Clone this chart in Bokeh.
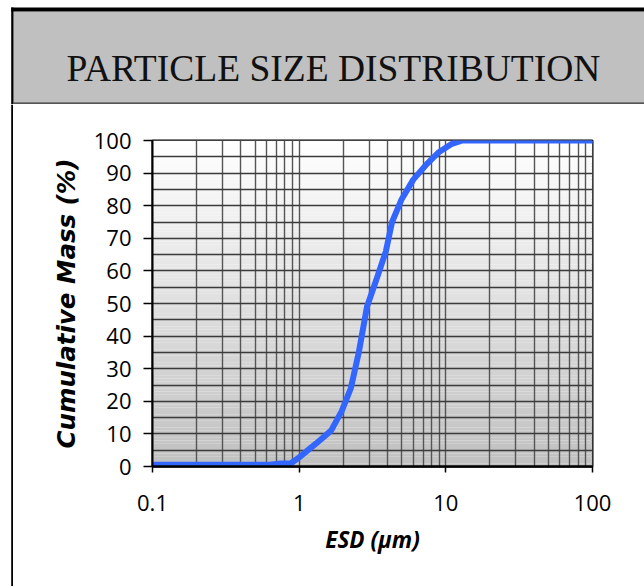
import numpy as np
from bokeh.plotting import figure
from bokeh.layouts import column, row
from bokeh.models import Range1d, FixedTicker, NumeralTickFormatter
from bokeh.core.properties import value
from bokeh.embed import file_html
from bokeh.resources import INLINE

# ---------------- data ----------------
TITLE = "PARTICLE SIZE DISTRIBUTION"
X_LABEL = "ESD (µm)"
Y_LABEL = "Cumulative Mass (%)"

esd_um = [0.1, 0.6, 0.75, 0.88, 1.0, 1.3, 1.65, 1.95, 2.25, 2.55, 2.9,
          3.4, 3.9, 4.3, 5.0, 6.0, 7.5, 9.0, 11.0, 13.0, 100.0]
cum_mass = [0.5, 0.5, 0.9, 1.0, 2.8, 7.0, 11.0, 17.0, 24.0, 35.0, 49.0,
            58.0, 66.0, 75.0, 82.0, 88.0, 93.0, 96.5, 99.0, 100.0, 100.0]

X_TICKS = [0.1, 1, 10, 100]
X_MINOR = [m * d for d in (0.1, 1, 10) for m in range(2, 10)]
Y_TICKS = list(range(0, 101, 10))
Y_MINOR = list(range(5, 100, 10))

W_TOTAL = 644
H_TOP = 104
H_BOTTOM = 482
STRIP_W = 13


def blank_fig(w, h, yflip=False):
    f = figure(width=w, height=h, x_range=Range1d(0, w),
               y_range=Range1d(h, 0) if yflip else Range1d(0, h),
               output_backend="svg", toolbar_location=None, min_border=0,
               x_axis_location=None, y_axis_location=None)
    f.outline_line_color = None
    f.grid.visible = False
    f.background_fill_color = "white"
    f.border_fill_color = "white"
    return f


# ---------------- title bar ----------------
top = blank_fig(W_TOTAL, H_TOP, yflip=True)
top.quad(left=[13], right=[W_TOTAL], top=[11], bottom=[101.7],
         fill_color="#C0C0C0", line_color=None)
top.quad(left=[10.7], right=[W_TOTAL], top=[7], bottom=[11],
         fill_color="black", line_color=None)
top.quad(left=[13], right=[W_TOTAL], top=[101.7], bottom=[104],
         fill_color="#555555", line_color=None)
top.quad(left=[10.7], right=[13], top=[7], bottom=[H_TOP],
         fill_color="black", line_color=None)
top.text(x=[333], y=[68], text=[TITLE], text_font=value("Liberation Serif"),
         text_font_size="37.5px", text_align="center",
         text_baseline="alphabetic", text_color="#111111")

# ---------------- left border strip ----------------
strip = blank_fig(STRIP_W, H_BOTTOM)
strip.quad(left=[10.7], right=[STRIP_W], bottom=[0], top=[H_BOTTOM],
           fill_color="black", line_color=None)

# ---------------- chart ----------------
x0, x1 = X_TICKS[0], X_TICKS[-1]
p = figure(width=W_TOTAL - STRIP_W, height=H_BOTTOM, x_axis_type="log",
           x_range=Range1d(x0, x1), y_range=Range1d(0, 100),
           output_backend="svg", toolbar_location=None,
           min_border_left=152 - STRIP_W, min_border_right=52,
           min_border_top=36, min_border_bottom=120)
p.background_fill_color = "white"
p.border_fill_color = "white"
p.outline_line_color = "black"
p.outline_line_width = 2

# vertical gradient background (white top -> silver bottom)
edges = np.linspace(0, 100, 101)
cols = []
for i in range(100):
    t = (edges[i] + edges[i + 1]) / 200.0
    c = int(round(192 + 63 * t))
    cols.append("#%02x%02x%02x" % (c, c, c))
p.quad(left=[x0] * 100, right=[x1] * 100, bottom=edges[:-1], top=edges[1:],
       fill_color=cols, line_color=None, level="image")

xt = FixedTicker(ticks=X_TICKS, minor_ticks=X_MINOR)
yt = FixedTicker(ticks=Y_TICKS, minor_ticks=Y_MINOR)
p.xaxis.ticker = xt
p.yaxis.ticker = yt
p.xgrid.ticker = xt
p.ygrid.ticker = yt
p.xgrid.grid_line_color = "#555555"
p.xgrid.minor_grid_line_color = "#555555"
p.ygrid.grid_line_color = "#3a3a3a"
p.ygrid.minor_grid_line_color = "#3a3a3a"
for g in (p.xgrid, p.ygrid):
    g.grid_line_width = 1.4
    g.minor_grid_line_width = 1.4

p.xaxis.formatter = NumeralTickFormatter(format="0.[0]")

for ax in (p.xaxis, p.yaxis):
    ax.axis_line_color = "black"
    ax.major_tick_line_color = "black"
    ax.major_tick_line_width = 1.5
    ax.major_tick_in = 0
    ax.minor_tick_in = 0
    ax.minor_tick_out = 0
    ax.major_label_text_font = "Open Sans"
    ax.major_label_text_font_size = "22px"
    ax.major_label_text_color = "black"
    ax.axis_label_text_font_style = "bold italic"
    ax.axis_label_text_color = "black"

p.xaxis.axis_label_text_font = "Open Sans"
p.xaxis.axis_label_text_font_size = "22.5px"
p.yaxis.axis_label_text_font = "DejaVu Sans"
p.yaxis.axis_label_text_font_size = "24.5px"

p.xaxis.axis_line_width = 2.5
p.yaxis.axis_line_width = 2
p.xaxis.major_tick_out = 6
p.xaxis.major_label_standoff = 22
p.xaxis.axis_label = X_LABEL
p.xaxis.axis_label_standoff = 10
p.yaxis.major_tick_out = 9
p.yaxis.major_label_standoff = 12
p.yaxis.axis_label = Y_LABEL
p.yaxis.axis_label_standoff = 10

p.line(esd_um, cum_mass, line_color="#3366FF", line_width=6,
       line_join="round", line_cap="round")

layout = column(row(top, spacing=0),
                row(column(strip, spacing=0), column(p, spacing=0), spacing=0),
                spacing=0)

open("out.html", "w").write(file_html(layout, INLINE))
